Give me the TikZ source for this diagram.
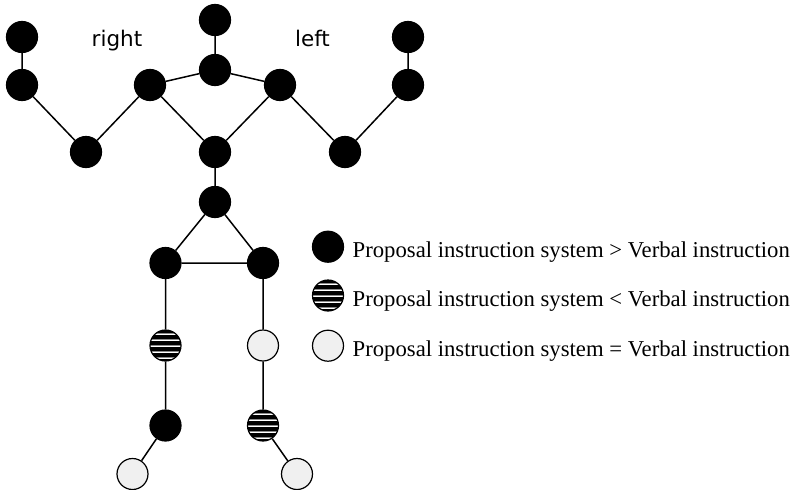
\documentclass[tikz,border=0pt]{standalone}
\usepackage{fontspec}
\usetikzlibrary{backgrounds}
\newfontfamily\legfont{Liberation Serif}
\newfontfamily\lrfont{DejaVu Sans}
\definecolor{lightfill}{gray}{0.94}
\definecolor{stripeedge}{gray}{0.55}
\tikzset{
  joint/.style={circle, minimum size=31pt, inner sep=0pt, draw=black, line width=1.2pt},
  blackj/.style={joint, fill=black},
  lightj/.style={joint, fill=lightfill},
  stripej/.style={joint, fill=black, path picture={
    \foreach \dy in {11.5,5.5,-0.5,-6.5,-12.5} {
      \draw[line width=2.4pt, stripeedge] ([yshift=\dy pt]path picture bounding box.west) -- ([yshift=\dy pt]path picture bounding box.east);
      \draw[line width=0.9pt, white] ([yshift=\dy pt]path picture bounding box.west) -- ([yshift=\dy pt]path picture bounding box.east);
    }}},
  bone/.style={line width=1.5pt, draw=black},
  legtext/.style={anchor=base west, inner sep=0pt, font=\legfont\fontsize{22.7}{26}\selectfont},
  sidetext/.style={anchor=base, inner sep=0pt, font=\lrfont\fontsize{21.5}{24}\selectfont}
}
\begin{document}
\begin{tikzpicture}[x=1pt, y=-1pt]
\path[use as bounding box] (0,0) rectangle (801,490);
% joints
\node[blackj] (head) at (215,20) {};
\node[blackj] (neck) at (215,70) {};
\node[blackj] (rsh) at (150,85) {};
\node[blackj] (lsh) at (280,85) {};
\node[blackj] (rel) at (86,152) {};
\node[blackj] (lel) at (345,152) {};
\node[blackj] (rwr) at (22,85) {};
\node[blackj] (lwr) at (408,85) {};
\node[blackj] (rha) at (22,37) {};
\node[blackj] (lha) at (408,37) {};
\node[blackj] (spine) at (215,152) {};
\node[blackj] (mid) at (215,202) {};
\node[blackj] (rhip) at (165.5,263) {};
\node[blackj] (lhip) at (263,263) {};
\node[stripej] (rkn) at (165.5,345.5) {};
\node[lightj] (lkn) at (263,345.5) {};
\node[blackj] (ran) at (165.5,425.5) {};
\node[stripej] (lan) at (263,425.5) {};
\node[lightj] (rft) at (132.5,474) {};
\node[lightj] (lft) at (297,474) {};
% bones
\begin{scope}[on background layer]
\draw[bone] (head) -- (neck) (neck) -- (rsh) (neck) -- (lsh)
  (rsh) -- (rel) (rel) -- (rwr) (rwr) -- (rha)
  (lsh) -- (lel) (lel) -- (lwr) (lwr) -- (lha)
  (rsh) -- (spine) (lsh) -- (spine) (spine) -- (mid)
  (mid) -- (rhip) (mid) -- (lhip) (rhip) -- (lhip)
  (rhip) -- (rkn) (rkn) -- (ran) (ran) -- (rft)
  (lhip) -- (lkn) (lkn) -- (lan) (lan) -- (lft);
\end{scope}
% side labels
\node[sidetext] (rlab) at (117,46.7) {right};
\node[sidetext] (llab) at (312.5,46.7) {left};
% legend
\node[blackj] (k1) at (328,246.7) {};
\node[stripej] (k2) at (328,295.5) {};
\node[lightj] (k3) at (328,345.7) {};
\node[legtext] (t1) at (352.5,257.3) {Proposal instruction system > Verbal instruction};
\node[legtext] (t2) at (352.5,306) {Proposal instruction system < Verbal instruction};
\node[legtext] (t3) at (352.5,356.5) {Proposal instruction system = Verbal instruction};
\end{tikzpicture}
\end{document}
